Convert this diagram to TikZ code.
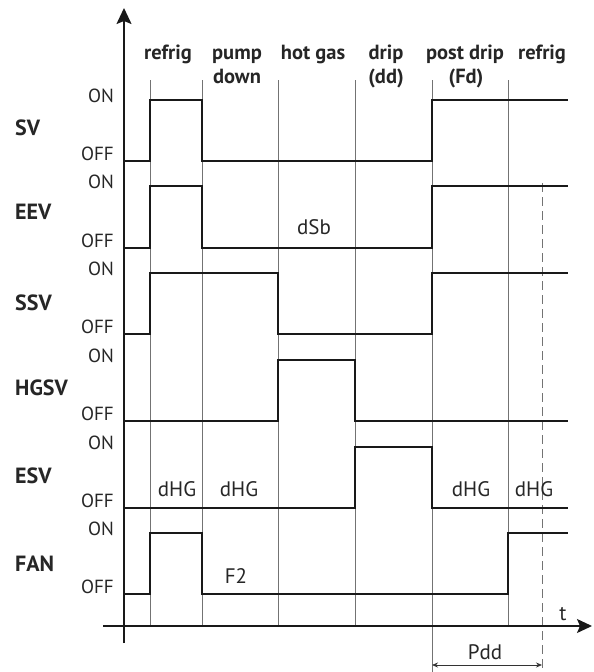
\documentclass[tikz,border=0pt]{standalone}
\usepackage{fontspec}
\setmainfont{PT Sans}
\usetikzlibrary{arrows.meta}
\newcommand{\FS}{\fontsize{19}{22}\selectfont}
\newcommand{\FM}{\fontsize{21}{24}\selectfont}
\newcommand{\FB}{\fontsize{20.5}{24}\selectfont\bfseries}
\newcommand{\FR}{\fontsize{22}{26}\selectfont\bfseries}

\begin{document}
\begin{tikzpicture}[x=1pt,y=-1pt]
\tikzstyle{grid}=[black!55,line width=0.8pt]
\tikzstyle{signal}=[black!90,line width=2.8pt,line join=miter]
\tikzstyle{axis}=[black!90,line width=1.5pt]
\tikzstyle{level}=[draw=none,fill=none,black!85,font=\FS,anchor=base east,inner sep=0pt]
\tikzstyle{texto}=[draw=none,fill=none,black!85,font=\FM,anchor=base,inner sep=0pt]
\tikzstyle{head}=[draw=none,fill=none,black!85,font=\FB,anchor=base,inner sep=0pt]
\tikzstyle{row}=[draw=none,fill=none,black!85,font=\FR,anchor=base west,inner sep=0pt]

\useasboundingbox (0,0) rectangle (594,672);

% phase boundaries
\foreach \x in {150,202,278,355,508}
  \draw[grid] (\x,80) -- (\x,626);
\draw[grid] (432,80) -- (432,672);
\draw[grid,dash pattern=on 9pt off 5pt] (542,183) -- (542,669);

% axes
\draw[axis,-{Stealth[length=16pt,width=15pt,inset=3pt]}] (124,643) -- (124,8);
\draw[axis,-{Stealth[length=15pt,width=14pt,inset=3pt]}] (103,626) -- (592,626);
\node[texto] (t) at (563,620) {t};

% phase names
\node[head] (refrig1) at (168,59) {refrig};
\node[head] (pump) at (237,59) {pump};
\node[head] (down) at (237,83) {down};
\node[head] (hotgas) at (313,59) {hot gas};
\node[head] (drip) at (386,59) {drip};
\node[head] (dd) at (386,83) {(dd)};
\node[head] (postdrip) at (465,59) {post drip};
\node[head] (Fd) at (466,83) {(Fd)};
\node[head] (refrig2) at (542,59) {refrig};

% rows
\foreach \name/\on/\off/\by in {SV/100/161/135,EEV/186/248/219,SSV/273/334/310,
  HGSV/360/421/395,ESV/447/508/483,FAN/533/594/571}{
  \node[row] (lab\name) at (15,\by) {\name};
  \node[level] (on\name) at (114,\on+2) {ON};
  \node[level] (off\name) at (114,\off-1) {OFF};
}

% signals
\draw[signal] (124,161) -- (150,161) -- (150,100) -- (202,100) -- (202,161)
  -- (432,161) -- (432,100) -- (568,100);
\draw[signal] (124,248) -- (150,248) -- (150,186) -- (202,186) -- (202,248)
  -- (432,248) -- (432,186) -- (568,186);
\draw[signal] (124,334) -- (150,334) -- (150,273) -- (278,273) -- (278,334)
  -- (432,334) -- (432,273) -- (568,273);
\draw[signal] (124,421) -- (278,421) -- (278,360) -- (355,360) -- (355,421)
  -- (568,421);
\draw[signal] (124,508) -- (355,508) -- (355,447) -- (432,447) -- (432,508)
  -- (568,508);
\draw[signal] (124,594) -- (150,594) -- (150,533) -- (202,533) -- (202,594)
  -- (508,594) -- (508,533) -- (568,533);

% parameters
\node[texto] (dSb) at (314,234) {dSb};
\node[texto] (dHG1) at (177,496) {dHG};
\node[texto] (dHG2) at (239,496) {dHG};
\node[texto] (dHG3) at (471,496) {dHG};
\node[texto] (dHG4) at (534,496) {dHG};
\node[texto] (F2) at (236,583) {F2};

% post drip duration
\coordinate (pddA) at (432,665);
\coordinate (pddB) at (542,665);
\draw[black!80,line width=0.8pt,{Stealth[length=6pt,width=5pt]}-{Stealth[length=6pt,width=5pt]}] (pddA) -- (pddB);
\node[texto] (Pdd) at (485,659) {Pdd};
\end{tikzpicture}
\end{document}
